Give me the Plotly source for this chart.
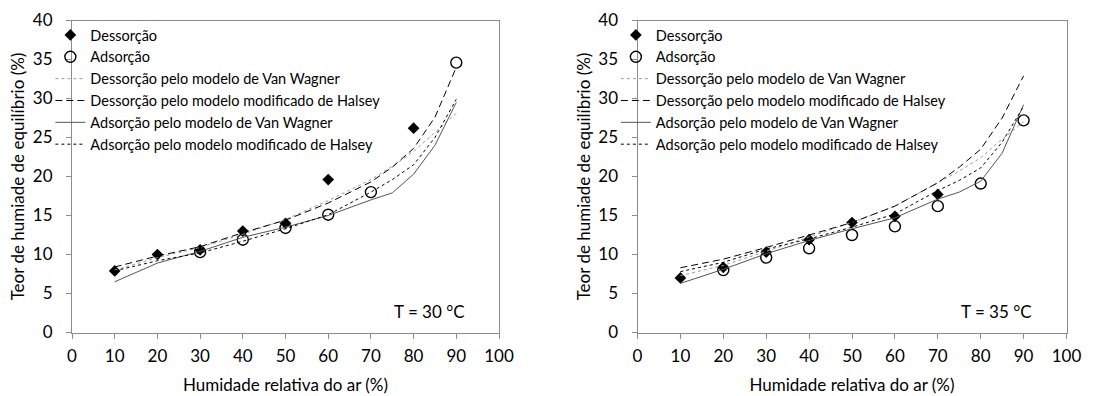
import plotly.graph_objects as go

FONT = "Lato"

# ---------------- data ----------------
rh_points_30_des = [10, 20, 30, 40, 50, 60, 80]
des_30 = [7.9, 10.0, 10.6, 13.0, 14.0, 19.6, 26.2]
rh_points_30_ads = [30, 40, 50, 60, 70, 90]
ads_30 = [10.3, 11.9, 13.4, 15.1, 18.0, 34.6]

rh_points_35_des = [10, 20, 30, 40, 50, 60, 70]
des_35 = [7.0, 8.35, 10.3, 11.9, 14.1, 14.9, 17.7]
rh_points_35_ads = [20, 30, 40, 50, 60, 70, 80, 90]
ads_35 = [8.0, 9.6, 10.8, 12.5, 13.6, 16.2, 19.1, 27.2]

rh_model = [10, 20, 30, 40, 50, 60, 70, 75, 80, 85, 90]
# T = 30 °C
des_vw_30 = [8.0, 9.6, 10.9, 12.6, 14.5, 16.9, 19.6, 21.3, 23.2, 25.6, 28.1]
des_hal_30 = [8.4, 9.8, 11.0, 12.8, 14.4, 16.6, 19.3, 21.2, 23.6, 27.6, 34.0]
ads_vw_30 = [6.5, 8.9, 10.4, 12.2, 13.5, 15.0, 17.0, 17.9, 20.3, 24.0, 29.5]
ads_hal_30 = [7.9, 9.2, 10.2, 11.7, 13.3, 15.1, 18.0, 19.6, 21.5, 25.0, 29.9]
# T = 35 °C
des_vw_35 = [7.3, 8.6, 10.4, 12.2, 14.1, 16.2, 19.2, 20.7, 22.4, 24.8, 27.0]
des_hal_35 = [8.3, 9.4, 10.9, 12.5, 14.1, 16.2, 19.2, 21.2, 23.5, 27.5, 32.9]
ads_vw_35 = [6.3, 8.1, 10.1, 11.8, 13.3, 14.7, 17.1, 18.0, 19.4, 23.0, 29.2]
ads_hal_35 = [7.8, 9.0, 10.7, 12.0, 13.5, 15.2, 18.2, 19.5, 21.1, 24.4, 29.0]

x_ticks = [0, 10, 20, 30, 40, 50, 60, 70, 80, 90, 100]
y_ticks = [0, 5, 10, 15, 20, 25, 30, 35, 40]
temps = ["T = 30 °C", "T = 35 °C"]

names = ["Dessorção", "Adsorção",
         "Dessorção pelo modelo de Van Wagner",
         "Dessorção pelo modelo modificado de Halsey",
         "Adsorção pelo modelo de Van Wagner",
         "Adsorção pelo modelo modificado de Halsey"]

fig = go.Figure()

sets = [
    (rh_points_30_des, des_30, rh_points_30_ads, ads_30,
     des_vw_30, des_hal_30, ads_vw_30, ads_hal_30, "x", "y", "legend"),
    (rh_points_35_des, des_35, rh_points_35_ads, ads_35,
     des_vw_35, des_hal_35, ads_vw_35, ads_hal_35, "x2", "y2", "legend2"),
]

for (xd, yd, xa, ya, dvw, dhal, avw, ahal, xa_, ya_, leg) in sets:
    fig.add_trace(go.Scatter(x=xd, y=yd, mode="markers", name=names[0],
                             marker=dict(symbol="diamond", size=9, color="black"),
                             xaxis=xa_, yaxis=ya_, legend=leg))
    fig.add_trace(go.Scatter(x=xa, y=ya, mode="markers", name=names[1],
                             marker=dict(symbol="circle-open", size=11, color="black",
                                         line=dict(width=1.4, color="black")),
                             xaxis=xa_, yaxis=ya_, legend=leg))
    fig.add_trace(go.Scatter(x=rh_model, y=dvw, mode="lines", name=names[2],
                             line=dict(color="#9a9a9a", width=1, dash="dot"),
                             xaxis=xa_, yaxis=ya_, legend=leg))
    fig.add_trace(go.Scatter(x=rh_model, y=dhal, mode="lines", name=names[3],
                             line=dict(color="black", width=1, dash="7px,4px"),
                             xaxis=xa_, yaxis=ya_, legend=leg))
    fig.add_trace(go.Scatter(x=rh_model, y=avw, mode="lines", name=names[4],
                             line=dict(color="#555555", width=1),
                             xaxis=xa_, yaxis=ya_, legend=leg))
    fig.add_trace(go.Scatter(x=rh_model, y=ahal, mode="lines", name=names[5],
                             line=dict(color="black", width=1, dash="3px,3px"),
                             xaxis=xa_, yaxis=ya_, legend=leg))

W, H = 1120, 396
y_dom = [1 - 332.5 / H, 1 - 20.5 / H]
x_dom1 = [72 / W, 499 / W]
x_dom2 = [637.5 / W, 1066.5 / W]

axis_common = dict(
    showgrid=False, zeroline=False, showline=True, linecolor="#8c8c8c", linewidth=1,
    mirror=True, ticks="outside", ticklen=5, tickcolor="#8c8c8c", automargin=False,
    tickfont=dict(family=FONT, size=17, color="black"),
)

xaxis_common = dict(axis_common, range=[0, 100], tickvals=x_ticks, ticklabelstandoff=3,
                    title=dict(text="Humidade relativa do ar (%)",
                               font=dict(family=FONT, size=17, color="black"), standoff=14))
yaxis_common = dict(axis_common, range=[0, 40], tickvals=y_ticks, ticklabelstandoff=10,
                    title=dict(text="Teor de humiade de equilíbrio (%)",
                               font=dict(family=FONT, size=17, color="black"), standoff=3))

legend_common = dict(
    bgcolor="rgba(0,0,0,0)", borderwidth=0, tracegroupgap=0,
    font=dict(family=FONT, size=14.5, color="black"),
    itemwidth=30, xanchor="left", yanchor="top", yref="paper", xref="paper",
)

fig.update_layout(
    width=W, height=H,
    margin=dict(l=0, r=0, t=0, b=0),
    paper_bgcolor="white", plot_bgcolor="white",
    showlegend=True,
    xaxis=dict(xaxis_common, domain=x_dom1, anchor="y"),
    yaxis=dict(yaxis_common, domain=y_dom, anchor="x"),
    xaxis2=dict(xaxis_common, domain=x_dom2, anchor="y2"),
    yaxis2=dict(yaxis_common, domain=y_dom, anchor="x2"),
    legend=dict(legend_common, x=75 / W - 0.022, y=1 - 19 / H),
    legend2=dict(legend_common, x=640.5 / W - 0.022, y=1 - 19 / H),
    annotations=[
        dict(text=temps[0], x=92.5, y=2.7, xref="x", yref="y", showarrow=False,
             xanchor="right", yanchor="middle", font=dict(family=FONT, size=17, color="black")),
        dict(text=temps[1], x=92.5, y=2.7, xref="x2", yref="y2", showarrow=False,
             xanchor="right", yanchor="middle", font=dict(family=FONT, size=17, color="black")),
    ],
)

fig.write_html("out.html")
